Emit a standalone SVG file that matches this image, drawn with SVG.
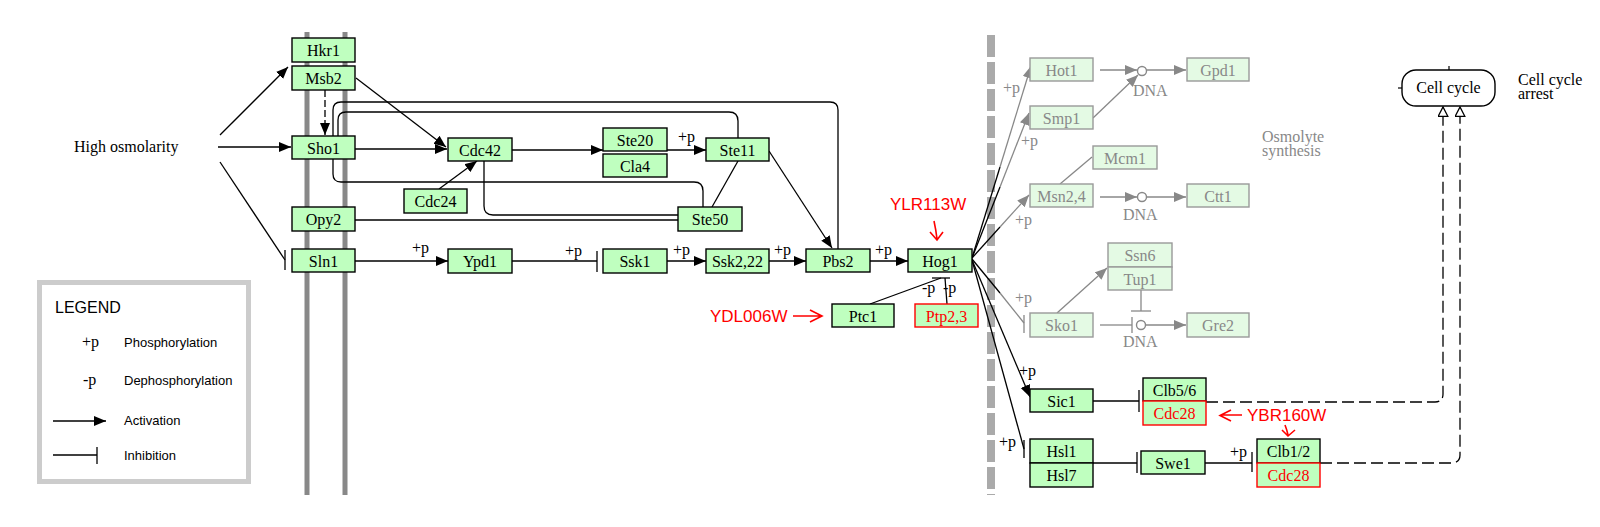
<svg xmlns="http://www.w3.org/2000/svg" width="1600" height="527" viewBox="0 0 1600 527">
<style>
.bg{fill:#fff}
.n rect{fill:#bfffbf;stroke:#000;stroke-width:1.4}
.n text{font-family:"Liberation Serif",serif;font-size:16px;text-anchor:middle;fill:#000}
.g rect{fill:#e4fae4;stroke:#999;stroke-width:1.4}
.g text{font-family:"Liberation Serif",serif;font-size:16px;text-anchor:middle;fill:#888}
.n rect.red{stroke:#f00}
.n text.red{fill:#f00}
.c{fill:none;stroke:#000;stroke-width:1.3}
.cg{fill:none;stroke:#888;stroke-width:1.3}
.dash{stroke-dasharray:12 5}
.lbl{font-family:"Liberation Serif",serif;font-size:16px;fill:#000}
.lblg{font-family:"Liberation Serif",serif;font-size:16px;fill:#888}
.gene{font-family:"Liberation Sans",sans-serif;font-size:17px;fill:#f00}
.ra{fill:none;stroke:#f00;stroke-width:1.6}
.leg{font-family:"Liberation Sans",sans-serif;font-size:13px;fill:#000}
</style>
<defs>
<marker id="a" markerUnits="userSpaceOnUse" markerWidth="13" markerHeight="11" refX="12" refY="5" orient="auto"><path d="M0,0 L12,5 L0,10 z" fill="#000"/></marker>
<marker id="ag" markerUnits="userSpaceOnUse" markerWidth="13" markerHeight="11" refX="12" refY="5" orient="auto"><path d="M0,0 L12,5 L0,10 z" fill="#888"/></marker>
<marker id="ao" markerUnits="userSpaceOnUse" markerWidth="12" markerHeight="12" refX="10" refY="5.5" orient="auto"><path d="M0.7,0.7 L10,5.5 L0.7,10.3 z" fill="#fff" stroke="#000" stroke-width="1.3"/></marker>
</defs>
<rect class="bg" x="0" y="0" width="1600" height="527"/>

<g id="membranes">
<line x1="307" y1="32" x2="307" y2="495" stroke="#888" stroke-width="5"/>
<line x1="345" y1="32" x2="345" y2="495" stroke="#888" stroke-width="5"/>
<line x1="991" y1="35" x2="991" y2="495" stroke="#aaa" stroke-width="8" stroke-dasharray="22 5"/>
</g>

<g id="legend">
<rect x="39.5" y="282.5" width="209" height="199" fill="#fff" stroke="#ccc" stroke-width="5"/>
<text x="55" y="313" font-family="Liberation Sans, sans-serif" font-size="16" fill="#000">LEGEND</text>
<text class="lbl" x="82" y="347">+p</text>
<text class="leg" x="124" y="347">Phosphorylation</text>
<text class="lbl" x="83" y="385">-p</text>
<text class="leg" x="124" y="385">Dephosphorylation</text>
<line class="c" x1="53" y1="421" x2="106" y2="421" marker-end="url(#a)"/>
<text class="leg" x="124" y="425">Activation</text>
<line class="c" x1="53" y1="455" x2="97" y2="455"/>
<line class="c" x1="97" y1="447" x2="97" y2="464"/>
<text class="leg" x="124" y="460">Inhibition</text>
</g>

<g id="connectors">
<line class="c" x1="220" y1="135" x2="288" y2="67" marker-end="url(#a)"/>
<line class="c" x1="218" y1="147" x2="291" y2="147" marker-end="url(#a)"/>
<line class="c" x1="220" y1="162" x2="285" y2="260"/>
<line class="c" x1="285" y1="250" x2="285" y2="270"/>
<line class="c" x1="325" y1="90" x2="325" y2="135" stroke-dasharray="7 3" marker-end="url(#a)"/>
<line class="c" x1="356" y1="78" x2="446" y2="147" marker-end="url(#a)"/>
<line class="c" x1="355" y1="149" x2="447" y2="149" marker-end="url(#a)"/>
<path class="c" d="M333,136 V110 Q333,102 341,102 H830 Q838,102 838,110 V249"/>
<path class="c" d="M338,136 V120 Q338,112 346,112 H729 Q738,112 738,121 V138"/>
<path class="c" d="M333,159 V174 Q333,182 341,182 H694 Q703,182 703,191 V207"/>
<line class="c" x1="439" y1="189" x2="477" y2="161" marker-end="url(#a)"/>
<line class="c" x1="512" y1="150" x2="603" y2="150" marker-end="url(#a)"/>
<path class="c" d="M484,161 V206 Q484,215 493,215 H678"/>
<line class="c" x1="355" y1="220" x2="678" y2="220"/>
<line class="c" x1="667" y1="150" x2="706" y2="150" marker-end="url(#a)"/>
<text class="lbl" x="678" y="142">+p</text>
<line class="c" x1="712" y1="207" x2="738" y2="161"/>
<line class="c" x1="769" y1="151" x2="832" y2="248" marker-end="url(#a)"/>
<line class="c" x1="355" y1="261" x2="448" y2="261" marker-end="url(#a)"/>
<text class="lbl" x="412" y="253">+p</text>
<line class="c" x1="512" y1="261" x2="597" y2="261"/>
<line class="c" x1="597" y1="251" x2="597" y2="272"/>
<text class="lbl" x="565" y="256">+p</text>
<line class="c" x1="667" y1="261" x2="706" y2="261" marker-end="url(#a)"/>
<text class="lbl" x="673" y="255">+p</text>
<line class="c" x1="769" y1="261" x2="806" y2="261" marker-end="url(#a)"/>
<text class="lbl" x="774" y="255">+p</text>
<line class="c" x1="870" y1="261" x2="908" y2="261" marker-end="url(#a)"/>
<text class="lbl" x="875" y="255">+p</text>
<line class="c" x1="870" y1="304" x2="941" y2="278"/>
<line class="c" x1="947" y1="304" x2="945" y2="278"/>
<line class="c" x1="932" y1="278" x2="950" y2="278"/>
<text class="lbl" x="922" y="293">-p</text>
<text class="lbl" x="943" y="293">-p</text>
<line class="c" x1="972" y1="258" x2="1000" y2="167"/>
<line class="cg" x1="1000" y1="167" x2="1031" y2="66" marker-end="url(#ag)"/>
<text class="lblg" x="1003" y="93">+p</text>
<line class="c" x1="972" y1="258" x2="1000" y2="187"/>
<line class="cg" x1="1000" y1="187" x2="1029" y2="113" marker-end="url(#ag)"/>
<text class="lblg" x="1021" y="146">+p</text>
<line class="c" x1="972" y1="258" x2="1000" y2="227"/>
<line class="cg" x1="1000" y1="227" x2="1029" y2="195" marker-end="url(#ag)"/>
<text class="lblg" x="1015" y="225">+p</text>
<line class="c" x1="972" y1="259" x2="1000" y2="293"/>
<line class="cg" x1="1000" y1="293" x2="1024" y2="323"/>
<line class="cg" x1="1024" y1="315" x2="1024" y2="333"/>
<text class="lblg" x="1015" y="303">+p</text>
<line class="c" x1="972" y1="260" x2="1030" y2="397" marker-end="url(#a)"/>
<text class="lbl" x="1019" y="376">+p</text>
<line class="c" x1="972" y1="260" x2="1024" y2="449"/>
<line class="c" x1="1024" y1="440" x2="1024" y2="458"/>
<text class="lbl" x="999" y="447">+p</text>
<line class="cg" x1="1100" y1="70" x2="1137" y2="70" marker-end="url(#ag)"/>
<line class="cg" x1="1147" y1="70" x2="1186" y2="70" marker-end="url(#ag)"/>
<line class="cg" x1="1093" y1="118" x2="1138" y2="75" marker-end="url(#ag)"/>
<circle cx="1142" cy="71" r="4.5" fill="#fff" stroke="#888" stroke-width="1.4"/>
<text class="lblg" x="1133" y="96">DNA</text>
<line class="cg" x1="1092" y1="157" x2="1060" y2="184"/>
<line class="cg" x1="1100" y1="197" x2="1137" y2="197" marker-end="url(#ag)"/>
<line class="cg" x1="1147" y1="197" x2="1186" y2="197" marker-end="url(#ag)"/>
<circle cx="1142" cy="197" r="4.5" fill="#fff" stroke="#888" stroke-width="1.4"/>
<text class="lblg" x="1123" y="220">DNA</text>
<line class="cg" x1="1057" y1="313" x2="1107" y2="268" marker-end="url(#ag)"/>
<line class="cg" x1="1100" y1="325" x2="1132" y2="325"/>
<line class="cg" x1="1132" y1="317" x2="1132" y2="333"/>
<line class="cg" x1="1141" y1="290" x2="1141" y2="311"/>
<line class="cg" x1="1131" y1="311" x2="1151" y2="311"/>
<line class="cg" x1="1146" y1="325" x2="1186" y2="325" marker-end="url(#ag)"/>
<circle cx="1141" cy="325" r="4.5" fill="#fff" stroke="#888" stroke-width="1.4"/>
<text class="lblg" x="1123" y="347">DNA</text>
<line class="c" x1="1093" y1="401" x2="1139" y2="401"/>
<line class="c" x1="1139" y1="390" x2="1139" y2="412"/>
<line class="c" x1="1093" y1="463" x2="1137" y2="463"/>
<line class="c" x1="1137" y1="452" x2="1137" y2="473"/>
<line class="c" x1="1205" y1="463" x2="1252" y2="463"/>
<line class="c" x1="1252" y1="452" x2="1252" y2="472"/>
<text class="lbl" x="1230" y="457">+p</text>
<path class="c dash" d="M1206,402 H1435 Q1443,402 1443,394 V107" marker-end="url(#ao)"/>
<path class="c dash" d="M1320,463 H1451 Q1460,463 1460,455 V107" marker-end="url(#ao)"/>
</g>

<g id="left-nodes">
<g id="Hkr1" class="n"><rect x="292" y="38" width="63" height="24"/><text x="323.5" y="56">Hkr1</text></g>
<g id="Msb2" class="n"><rect x="292" y="66" width="63" height="24"/><text x="323.5" y="84">Msb2</text></g>
<g id="Sho1" class="n"><rect x="292" y="136" width="63" height="23"/><text x="323.5" y="154">Sho1</text></g>
<g id="Opy2" class="n"><rect x="292" y="207" width="63" height="24"/><text x="323.5" y="225">Opy2</text></g>
<g id="Sln1" class="n"><rect x="292" y="249" width="63" height="23"/><text x="323.5" y="267">Sln1</text></g>
<g id="Cdc42" class="n"><rect x="448" y="138" width="64" height="23"/><text x="480" y="156">Cdc42</text></g>
<g id="Cdc24" class="n"><rect x="404" y="189" width="63" height="24"/><text x="435.5" y="207">Cdc24</text></g>
<g id="Ste20" class="n"><rect x="603" y="128" width="64" height="23"/><text x="635" y="146">Ste20</text></g>
<g id="Cla4" class="n"><rect x="603" y="154" width="64" height="23"/><text x="635" y="172">Cla4</text></g>
<g id="Ste11" class="n"><rect x="706" y="138" width="63" height="23"/><text x="737.5" y="156">Ste11</text></g>
<g id="Ste50" class="n"><rect x="678" y="207" width="64" height="24"/><text x="710" y="225">Ste50</text></g>
<g id="Ypd1" class="n"><rect x="448" y="249" width="64" height="24"/><text x="480" y="267">Ypd1</text></g>
<g id="Ssk1" class="n"><rect x="603" y="249" width="64" height="24"/><text x="635" y="267">Ssk1</text></g>
<g id="Ssk2_22" class="n"><rect x="706" y="249" width="63" height="24"/><text x="737.5" y="267">Ssk2,22</text></g>
<g id="Pbs2" class="n"><rect x="806" y="249" width="64" height="23"/><text x="838" y="267">Pbs2</text></g>
<g id="Hog1" class="n"><rect x="908" y="249" width="64" height="23"/><text x="940" y="267">Hog1</text></g>
<g id="Ptc1" class="n"><rect x="832" y="304" width="62" height="23"/><text x="863" y="322">Ptc1</text></g>
<g id="Ptp2_3" class="n"><rect class="red" x="915" y="304" width="63" height="23"/><text class="red" x="946.5" y="322">Ptp2,3</text></g>
</g>

<g id="right-nodes">
<g id="Hot1" class="g"><rect x="1030" y="58" width="63" height="23"/><text x="1061.5" y="76">Hot1</text></g>
<g id="Gpd1" class="g"><rect x="1187" y="58" width="62" height="23"/><text x="1218" y="76">Gpd1</text></g>
<g id="Smp1" class="g"><rect x="1030" y="106" width="63" height="23"/><text x="1061.5" y="124">Smp1</text></g>
<g id="Mcm1" class="g"><rect x="1093" y="146" width="64" height="23"/><text x="1125" y="164">Mcm1</text></g>
<g id="Msn2_4" class="g"><rect x="1030" y="184" width="63" height="23"/><text x="1061.5" y="202">Msn2,4</text></g>
<g id="Ctt1" class="g"><rect x="1187" y="184" width="62" height="23"/><text x="1218" y="202">Ctt1</text></g>
<g id="Ssn6" class="g"><rect x="1108" y="243" width="64" height="24"/><text x="1140" y="261">Ssn6</text></g>
<g id="Tup1" class="g"><rect x="1108" y="267" width="64" height="23"/><text x="1140" y="285">Tup1</text></g>
<g id="Sko1" class="g"><rect x="1030" y="313" width="63" height="24"/><text x="1061.5" y="331">Sko1</text></g>
<g id="Gre2" class="g"><rect x="1187" y="313" width="62" height="24"/><text x="1218" y="331">Gre2</text></g>
<g id="Sic1" class="n"><rect x="1030" y="389" width="63" height="23"/><text x="1061.5" y="407">Sic1</text></g>
<g id="Clb5_6" class="n"><rect x="1143" y="378" width="63" height="23"/><text x="1174.5" y="396">Clb5/6</text></g>
<g id="Cdc28a" class="n"><rect class="red" x="1143" y="401" width="63" height="24"/><text class="red" x="1174.5" y="419">Cdc28</text></g>
<g id="Hsl1" class="n"><rect x="1030" y="439" width="63" height="24"/><text x="1061.5" y="457">Hsl1</text></g>
<g id="Hsl7" class="n"><rect x="1030" y="463" width="63" height="24"/><text x="1061.5" y="481">Hsl7</text></g>
<g id="Swe1" class="n"><rect x="1141" y="451" width="64" height="23"/><text x="1173" y="469">Swe1</text></g>
<g id="Clb1_2" class="n"><rect x="1257" y="439" width="63" height="24"/><text x="1288.5" y="457">Clb1/2</text></g>
<g id="Cdc28b" class="n"><rect class="red" x="1257" y="463" width="63" height="24"/><text class="red" x="1288.5" y="481">Cdc28</text></g>
<g id="CellCycle">
<rect x="1402" y="70" width="93" height="36" rx="14" ry="14" fill="#fff" stroke="#000" stroke-width="1.4"/>
<line x1="1449" y1="66" x2="1449" y2="70" stroke="#000" stroke-width="1.2"/>
<line x1="1398" y1="88" x2="1402" y2="88" stroke="#000" stroke-width="1.2"/>
<text x="1448.5" y="93" font-family="Liberation Serif, serif" font-size="16" text-anchor="middle">Cell cycle</text>
</g>
</g>

<g id="labels">
<text x="74" y="152" font-family="Liberation Serif, serif" font-size="16">High osmolarity</text>
<text x="1262" y="142" class="lblg">Osmolyte</text>
<text x="1262" y="156" class="lblg">synthesis</text>
<text x="1518" y="85" class="lbl">Cell cycle</text>
<text x="1518" y="99" class="lbl">arrest</text>
</g>

<g id="annotations">
<text class="gene" x="890" y="210">YLR113W</text>
<path class="ra" d="M934,221 Q936,230 937,239 M930,232 L937,240 L943,232"/>
<text class="gene" x="710" y="322">YDL006W</text>
<path class="ra" d="M793,316 H821 M810,310 L822,316 L810,322"/>
<text class="gene" x="1247" y="421">YBR160W</text>
<path class="ra" d="M1242,415 H1221 M1231,410 L1220,415.5 L1231,421"/>
<path class="ra" d="M1285,425 Q1287,430 1288,435 M1282,430 L1288,436 L1295,430"/>
</g>
</svg>
